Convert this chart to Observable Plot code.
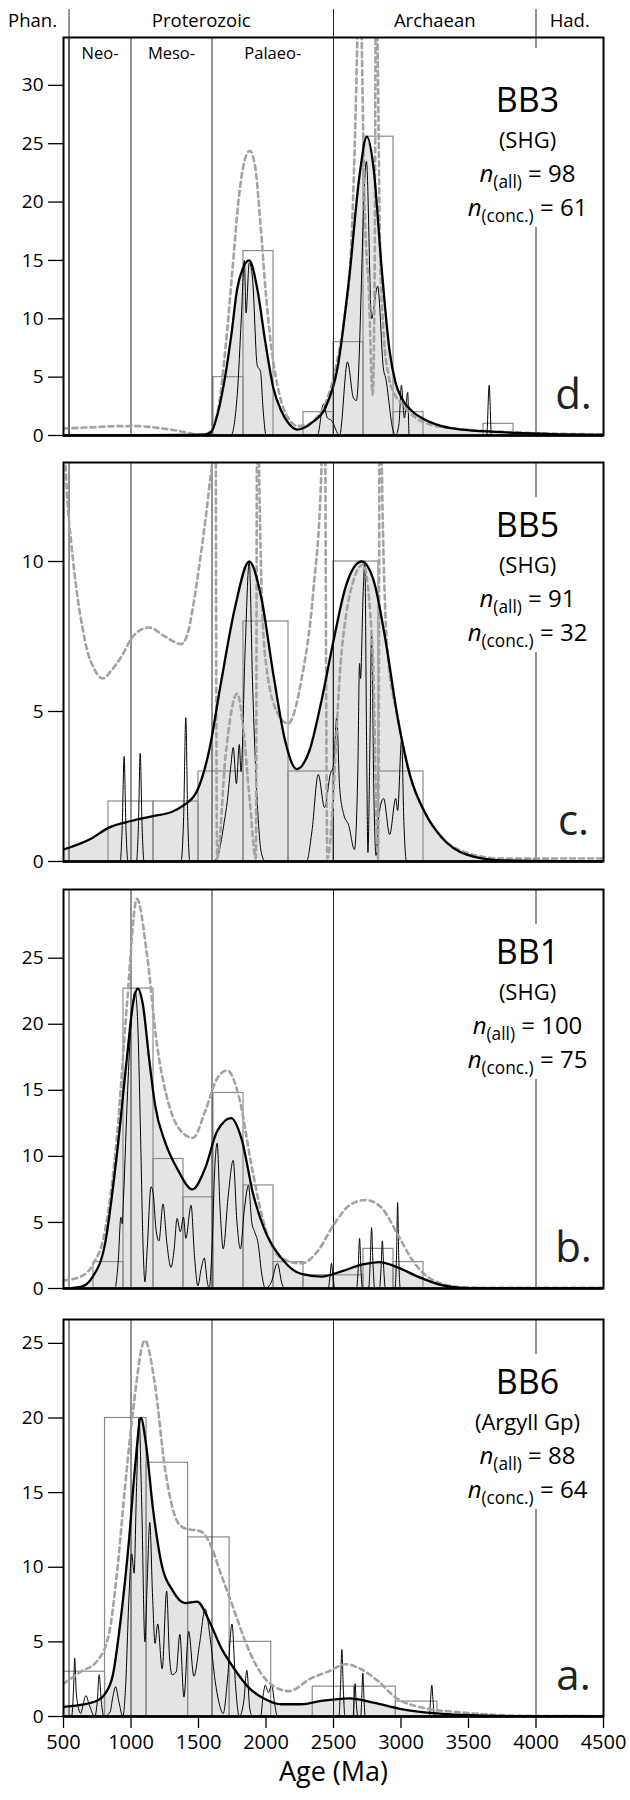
<!DOCTYPE html>
<html><head><meta charset="utf-8">
<script src="https://cdn.jsdelivr.net/npm/d3@7"></script>
<script src="https://cdn.jsdelivr.net/npm/@observablehq/plot@0.6"></script>
<style>
body{margin:0;background:#fff;}
#wrap{position:relative;width:630px;height:1800px;font-family:"Open Sans",sans-serif;}
#wrap svg{position:absolute;left:0;overflow:visible;}
</style></head><body><div id="wrap"></div>
<script>
// ---------- shared categories ----------
const eons = [{name:"Phan.",from:0,to:541},{name:"Proterozoic",from:541,to:2500},{name:"Archaean",from:2500,to:4000},{name:"Had.",from:4000,to:4500}];
const eras = [{name:"Neo-",from:541,to:1000},{name:"Meso-",from:1000,to:1600},{name:"Palaeo-",from:1600,to:2500}];
const boundaries = [541,1000,1600,2500];
const hadeanBoundary = [4000];
const eonTicks = [541,2500];
const xTicks = [500,1000,1500,2000,2500,3000,3500,4000,4500];

// ---------- BB3 (d) ----------
const bb3Hist = [0,0,0,0,0,5,15.8,0,2,8,25.6,2,0,0,1,0,0,0];
const bb3Kde = [[500,0],[1000,0.02],[1400,0.05],[1550,0.1],[1594,0.3],[1638,1.7],[1683,4.1],[1743,8.6],[1787,12.6],[1828,14.3],[1876,15],[1935,12.6],[1995,8],[2054,4.1],[2114,2.1],[2170,1],[2233,0.5],[2290,0.7],[2351,1.2],[2441,2.4],[2530,5.8],[2619,13.8],[2693,22.3],[2747,25.6],[2797,22.9],[2857,14.3],[2916,7.2],[2960,4.5],[3005,3.2],[3080,2.1],[3154,1.5],[3302,0.8],[3450,0.5],[3600,0.37],[3900,0.2],[4200,0.1],[4500,0.05]];
const bb3Pdp = [[500,0],[1740,0],[1787,3.5],[1817,10],[1840,15],[1852,10.5],[1876,14.8],[1900,13.5],[1935,6],[1959,5.5],[1980,2],[2001,0],[2381,0],[2426,2.7],[2455,1.5],[2485,1.3],[2545,0],[2604,6.3],[2648,3.2],[2670,3],[2744,23.5],[2782,10],[2827,12.8],[2871,5.6],[2885,5],[2940,0.5],[2960,0],[2985,1],[3003,4.3],[3025,1.5],[3050,3.7],[3060,0],[3635,0],[3653,4.3],[3670,0],[4500,0]];
const bb3Dash = [[500,0.6],[700,0.7],[900,0.8],[1050,0.8],[1200,0.65],[1350,0.4],[1480,0.1],[1540,0.05],[1600,0.5],[1650,2.5],[1700,7.5],[1750,14],[1800,20.5],[1840,23.5],[1880,24.4],[1920,23],[1960,18],[2000,12],[2040,7.5],[2100,3.5],[2170,1.4],[2240,0.8],[2300,0.9],[2380,1.6],[2450,3],[2520,6],[2580,10],[2630,16],[2660,26],[2680,36],[2693,45],[2706,36],[2730,20],[2762,12.3],[2790,3.5],[2805,14],[2815,42],[2828,32],[2845,16],[2870,9],[2910,5],[2950,3.6],[3000,2.8],[3100,1.6],[3200,1],[3400,0.6],[3600,0.4],[3800,0.3],[4000,0.2],[4500,0.1]];

// ---------- BB5 (c) ----------
const bb5Hist = [0,2,2,3,8,3,10,3,0,0,0,0];
const bb5Kde = [[500,0.4],[700,0.75],[836,1.13],[1000,1.35],[1172,1.52],[1300,1.65],[1386,1.86],[1490,2.36],[1579,3.7],[1668,6],[1772,8.5],[1876,10],[1965,8.8],[2054,6.25],[2143,4],[2227,3.08],[2322,3.7],[2411,5.36],[2500,7.36],[2589,9.14],[2708,10],[2797,9.37],[2886,7.36],[2975,4.8],[3065,2.9],[3183,1.58],[3302,0.8],[3481,0.24],[3748,0.04],[4500,0]];
const bb5Pdp = [[500,0],[920,0],[935,1.2],[949,3.5],[962,1.2],[978,0],[1040,0],[1055,1.2],[1068,3.6],[1082,1.2],[1097,0],[1370,0],[1390,1.5],[1406,4.8],[1420,1.5],[1436,0],[1610,0],[1650,0.3],[1690,1.3],[1713,2],[1740,3.2],[1757,3.8],[1781,2.6],[1802,3.9],[1815,3],[1845,7],[1876,10],[1900,6],[1935,2],[1965,0.3],[1995,0],[2300,0],[2340,1],[2387,2.9],[2434,1.8],[2476,2.9],[2500,3.2],[2524,4.8],[2545,2.5],[2574,1.6],[2613,1.2],[2655,0.4],[2680,3],[2693,6.6],[2700,6.1],[2720,9],[2732,10],[2745,4],[2755,0.3],[2770,4],[2782,7.6],[2800,2],[2815,0.2],[2835,1.5],[2871,2.1],[2916,0.9],[2961,2.1],[2975,1.7],[3005,4.1],[3020,1.5],[3041,0],[4500,0]];
const bb5Dash = [[500,15],[524,12.4],[560,10.5],[598,9],[640,7.8],[672,7.1],[730,6.4],[791,6.1],[860,6.4],[925,6.8],[1014,7.5],[1133,7.8],[1252,7.5],[1371,7.25],[1420,7.6],[1460,8.5],[1510,10],[1549,11.3],[1580,12.5],[1610,14],[1620,40],[1628,14],[1638,0.1],[1700,3.5],[1787,5.6],[1830,4.5],[1880,2],[1925,0.1],[1932,14],[1938,40],[1946,14],[1990,7],[2080,5],[2164,4.6],[2260,6],[2350,9],[2410,13],[2426,40],[2440,13],[2455,0.1],[2560,7],[2650,9.4],[2720,9.9],[2790,7],[2830,0.1],[2840,14],[2846,40],[2855,14],[2900,7],[2975,4.8],[3065,2.9],[3183,1.58],[3302,0.8],[3481,0.3],[3748,0.1],[4500,0.1]];

// ---------- BB1 (b) ----------
const bb1Hist = [0,2,22.7,9.8,6.9,14.8,7.8,2,1,1,3,2,0,0,0,0,0,0];
const bb1Kde = [[500,0],[628,0.13],[717,0.9],[806,3.3],[895,10.1],[970,17.5],[1014,21.5],[1050,22.7],[1088,21.5],[1133,17.5],[1178,13.9],[1252,11.1],[1341,9.1],[1455,7.5],[1549,9.1],[1638,11.9],[1742,12.9],[1817,11.4],[1906,7.1],[1995,4.3],[2114,2.3],[2262,1.1],[2411,0.9],[2559,1.3],[2708,1.8],[2842,2],[2975,1.6],[3124,0.9],[3302,0.25],[3451,0.05],[3700,0],[4500,0]];
const bb1Pdp = [[500,0],[880,0],[905,2],[925,5.4],[935,4.9],[945,7],[975,15],[1000,20],[1030,22.5],[1050,20],[1070,12],[1090,3],[1103,0.5],[1120,3],[1148,7.7],[1163,7.3],[1185,4.5],[1207,3.6],[1237,6.4],[1265,3.5],[1296,1.6],[1320,3],[1341,5.3],[1365,4.3],[1389,5.4],[1406,3.8],[1445,6.3],[1470,2.5],[1495,0.2],[1520,1.5],[1543,2.3],[1565,0.5],[1579,0],[1600,3],[1620,9],[1638,11],[1660,6],[1683,3],[1720,7],[1757,9.7],[1785,5],[1810,3],[1840,6],[1870,7.8],[1895,5],[1915,4.3],[1940,3.5],[1970,1],[1995,0],[2040,0.5],[2084,1.9],[2120,0.3],[2143,0],[2460,0],[2475,1],[2485,1.9],[2495,1],[2510,0],[2670,0],[2683,1.5],[2693,3.8],[2703,1.5],[2715,0],[2760,0],[2772,2],[2782,4.6],[2792,2],[2805,0],[2840,0],[2852,1.5],[2862,3.6],[2872,1.5],[2885,0],[2955,0],[2967,2.5],[2975,6.5],[2983,2.5],[2995,0],[4500,0]];
const bb1Dash = [[500,0.6],[628,0.9],[717,1.8],[806,4.3],[895,11.4],[970,21.5],[1044,29.5],[1118,25.3],[1192,18.5],[1281,13.9],[1371,11.9],[1460,11.4],[1549,13.4],[1638,15.9],[1713,16.5],[1802,14.4],[1891,9.4],[1980,5.1],[2114,2.3],[2262,1.9],[2381,2.8],[2500,4.8],[2619,6.3],[2738,6.7],[2857,6.1],[2975,4.1],[3094,2],[3243,0.6],[3451,0.1],[3700,0.05],[4500,0.05]];

// ---------- BB6 (a) ----------
const bb6Hist = [3,20,17,12,5,0,2,2,1,0,0,0,0];
const bb6Kde = [[500,0.65],[628,0.78],[747,1.05],[806,1.5],[866,2.8],[925,6.6],[984,11.7],[1029,16.6],[1074,20],[1109,18.4],[1163,13.9],[1222,10.4],[1311,8.4],[1400,7.6],[1490,7.7],[1579,6.4],[1668,4.6],[1757,3.3],[1876,1.9],[1995,1.16],[2114,0.82],[2262,0.82],[2411,1.05],[2619,1.22],[2797,0.93],[3005,0.5],[3243,0.22],[3451,0.1],[3897,0.02],[4500,0]];
const bb6Pdp = [[500,0],[560,0],[575,2],[583,3.9],[595,1.5],[628,0.2],[645,0.8],[666,1.4],[690,0.8],[732,0],[750,1],[764,2.8],[780,1],[800,0],[845,0.3],[865,1.3],[886,2],[910,1],[940,0],[960,2],[985,8],[1005,10.9],[1023,9.6],[1040,15],[1059,20],[1080,14],[1103,5],[1120,9],[1139,13],[1160,8],[1178,4.9],[1198,6.2],[1231,3.2],[1264,8.4],[1285,4],[1305,2.8],[1335,3],[1362,5.5],[1392,1.3],[1427,5.7],[1466,2.7],[1510,5],[1549,7.2],[1590,5],[1623,2.4],[1650,1],[1683,0.2],[1715,2.5],[1748,6.2],[1775,2],[1802,0],[1835,1],[1858,3.1],[1880,0.5],[1900,0],[1960,0],[1980,1.5],[1995,2.1],[2018,1.6],[2042,2.1],[2065,0.8],[2084,0],[2540,0],[2552,2],[2562,4.5],[2572,2],[2585,0],[2645,0],[2652,1],[2660,2.2],[2668,1],[2680,0],[2702,0],[2709,1.2],[2717,2.9],[2726,1.2],[2735,0],[3210,0],[3218,1],[3228,2.1],[3238,1],[3248,0],[4500,0]];
const bb6Dash = [[500,2.2],[628,3],[747,3.7],[836,5.5],[895,9.5],[955,15.3],[1014,20.4],[1103,25.2],[1178,22.2],[1252,16.6],[1341,13.1],[1400,12.6],[1519,12.4],[1579,11.7],[1668,9.5],[1757,7.3],[1846,5.05],[1935,3.3],[2054,2.05],[2173,1.7],[2322,2.5],[2470,3.05],[2589,3.5],[2708,3.15],[2827,2.4],[2961,1.27],[3154,0.6],[3451,0.27],[3897,0.05],[4500,0.02]];

// ---------- panel labels ----------
const panels = [
  {title:"BB3", group:"(SHG)", nAll:98, nConc:61, letter:"d.", hist:bb3Hist, kde:bb3Kde, pdp:bb3Pdp, dash:bb3Dash, yMax:34.1, yTicks:[0,5,10,15,20,25,30], top:0, mt:37, h:398, mb:10, header:true},
  {title:"BB5", group:"(SHG)", nAll:91, nConc:32, letter:"c.", hist:bb5Hist, kde:bb5Kde, pdp:bb5Pdp, dash:bb5Dash, yMax:13.3, yTicks:[0,5,10], top:452, mt:10, h:399, mb:10},
  {title:"BB1", group:"(SHG)", nAll:100, nConc:75, letter:"b.", hist:bb1Hist, kde:bb1Kde, pdp:bb1Pdp, dash:bb1Dash, yMax:30.2, yTicks:[0,5,10,15,20,25], top:879, mt:10, h:399, mb:10},
  {title:"BB6", group:"(Argyll Gp)", nAll:88, nConc:64, letter:"a.", hist:bb6Hist, kde:bb6Kde, pdp:bb6Pdp, dash:bb6Dash, yMax:26.6, yTicks:[0,5,10,15,20,25], top:1309, mt:10, h:397, mb:84, xaxis:true}
];

const X0 = 500, X1 = 4500;
const wrap = document.getElementById("wrap");

for (const p of panels) {
  const w = (X1 - X0) / p.hist.length;
  const bins = p.hist.map((n,i)=>({x1:X0+i*w, x2:X0+(i+1)*w, n})).filter(d=>d.n>0);
  const lab = {frameAnchor:"top-right", textAnchor:"middle", lineAnchor:"middle", dx:-76, fill:"black"};
  const marks = [
    Plot.areaY(p.kde, {x:d=>d[0], y:d=>d[1], fill:"#e4e4e4", curve:"monotone-x", clip:true}),
    Plot.rectY(bins, {x1:"x1", x2:"x2", y:"n", fill:"none", stroke:"#8c8c8c", strokeWidth:1.2, clip:true}),
    Plot.ruleX(boundaries, {stroke:"#262626", strokeWidth:1}),
    // Hadean boundary, interrupted behind the sample label block
    Plot.ruleX(hadeanBoundary, {stroke:"#262626", strokeWidth:1, insetTop: p.header ? -28 : 0, insetBottom: p.h - (p.header ? 11 : 35)}),
    Plot.ruleX(hadeanBoundary, {stroke:"#262626", strokeWidth:1, insetTop:190}),
    Plot.lineY(p.pdp, {x:d=>d[0], y:d=>d[1], stroke:"black", strokeWidth:1, curve:"monotone-x", clip:true}),
    Plot.lineY(p.dash, {x:d=>d[0], y:d=>d[1], stroke:"#a3a3a3", strokeWidth:2.6, strokeDasharray:"5,4", curve:"monotone-x", clip:true}),
    Plot.lineY(p.kde, {x:d=>d[0], y:d=>d[1], stroke:"black", strokeWidth:2.3, curve:"monotone-x", clip:true}),
    Plot.ruleY([0], {stroke:"black", strokeWidth:2.4}),
    Plot.frame({stroke:"black", strokeWidth:2}),
    Plot.axisY(p.yTicks, {anchor:"left", tickSize:15, tickPadding:5, fontSize:19, strokeWidth:1.3, tickFormat:d=>`${d}`, label:null}),
    Plot.text([p.title], {...lab, dy:64, fontSize:34}),
    Plot.text([p.group], {...lab, dy:103, fontSize:22}),
    Plot.text([`n(all) = ${p.nAll}`], {...lab, dy:137, fontSize:24}),
    Plot.text([`n(conc.) = ${p.nConc}`], {...lab, dy:171, fontSize:24}),
    Plot.text([p.letter], {frameAnchor:"bottom-right", textAnchor:"middle", lineAnchor:"middle", dx:-30, dy:-40, fontSize:42, fill:"#222"})
  ];
  if (p.header) {
    marks.push(
      Plot.ruleX(eonTicks, {stroke:"#262626", strokeWidth:1, insetTop:-28}),
      Plot.text(eons, {x:d=>(d.from+d.to)/2, text:"name", frameAnchor:"top", lineAnchor:"middle", dy:-16, fontSize:18.5}),
      Plot.text(eras, {x:d=>(d.from+d.to)/2, text:"name", frameAnchor:"top", lineAnchor:"middle", dy:16, fontSize:16.5})
    );
  }
  if (p.xaxis) {
    marks.push(
      Plot.axisX(xTicks, {anchor:"bottom", tickSize:12, tickPadding:6, fontSize:20, strokeWidth:1.3, tickFormat:d=>`${d}`, label:null}),
      Plot.text(["Age (Ma)"], {frameAnchor:"bottom", lineAnchor:"middle", dy:56, fontSize:27})
    );
  }
  const svg = Plot.plot({
    width:630, height:p.mt+p.h+p.mb,
    marginLeft:63, marginRight:27, marginTop:p.mt, marginBottom:p.mb,
    x:{domain:[X0,X1], axis:null},
    y:{domain:[0,p.yMax], axis:null},
    style:{fontFamily:"'Open Sans', sans-serif", color:"black", background:"transparent", overflow:"visible"},
    marks
  });
  svg.style.top = p.top + "px";
  // n with italic symbol and subscript
  svg.querySelectorAll("text").forEach(t => {
    const m = t.textContent.match(/^n\((.+)\) = (.+)$/);
    if (!m) return;
    const ns = "http://www.w3.org/2000/svg";
    while (t.firstChild) t.removeChild(t.firstChild);
    const a = document.createElementNS(ns,"tspan"); a.textContent = "n"; a.setAttribute("font-style","italic");
    const b = document.createElementNS(ns,"tspan"); b.textContent = `(${m[1]})`; b.setAttribute("font-size","0.72em"); b.setAttribute("dy","0.32em");
    const c = document.createElementNS(ns,"tspan"); c.textContent = ` = ${m[2]}`; c.setAttribute("dy","-0.23em");
    t.append(a,b,c);
  });
  wrap.appendChild(svg);
}
</script></body></html>
